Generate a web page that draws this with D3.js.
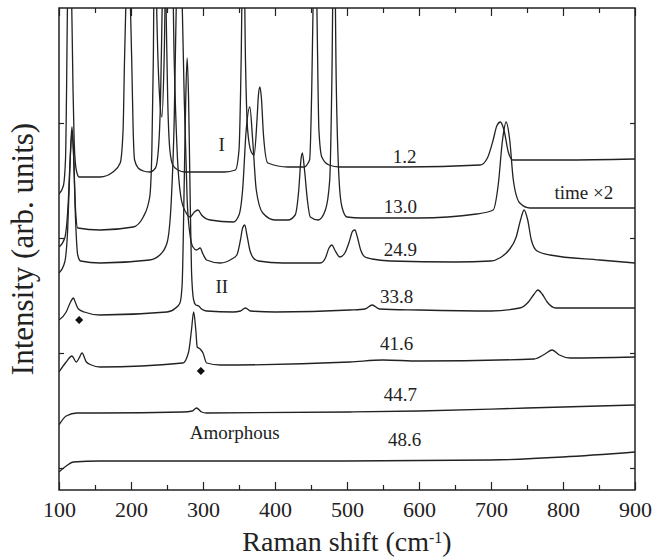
<!DOCTYPE html>
<html lang="en">
<head>
<meta charset="UTF-8">
<title>Raman spectra</title>
<style>
  body { margin: 0; background: #fff; }
  text { font-family: "Liberation Serif", "Times New Roman", serif; fill: #222; }
</style>
</head>
<body>
<div id="chart"></div>
<script src="https://cdnjs.cloudflare.com/ajax/libs/d3/7.8.5/d3.min.js"></script>
<script>
// spectra: [Raman shift (cm-1), intensity (arb. units, offset stacked)]
var s1_2 = [[100,296],[106,304],[109,330],[110.5,400],[111.5,470],[114.5,590],[118,470],[119.5,400],[121,350],[124,320],[128,313],[157,313],[175,318],[185,327],[189,360],[191,430],[193,490],[196,590],[199,490],[201,430],[203,360],[205,330],[210,322],[217,319],[226,318],[234,322],[238,340],[241,390],[243,470],[246,590],[249,470],[251,390],[254,340],[258,325],[265,320],[275,318],[330,318],[345,320],[350,340],[353,430],[356,590],[359,430],[362,360],[367,338],[371,335],[375,370],[377,395],[379,403],[381,393],[384,355],[390,327],[418,323],[440,323],[448,330],[451,400],[453,490],[455,590],[458,490],[461,360],[465,333],[475,325],[490,323],[580,323],[685,325],[695,332],[703,350],[708,364],[713,368],[718,360],[724,338],[730,330],[800,330],[900,331]];
var s13_0 = [[100,243],[108,252],[113,290],[116,340],[118,363],[120,340],[123,280],[126,262],[157,260],[203,263],[217,273],[226,293],[229,340],[231,430],[233,590],[236,470],[240,390],[243,373],[246,430],[250,590],[256,590],[260,430],[264,340],[270,290],[276,278],[282,273],[288,278],[293,280],[298,275],[310,270],[342,268],[350,275],[355,300],[360,360],[365,383],[369,350],[374,300],[383,277],[400,270],[418,270],[428,275],[433,300],[436,330],[438,337],[441,320],[445,290],[449,273],[460,270],[470,280],[476,310],[479,410],[482,590],[485,410],[489,310],[493,283],[500,273],[520,272],[600,272],[680,276],[703,280],[710,305],[716,350],[721,368],[726,350],[731,310],[740,287],[754,282],[900,282]];
var s24_9 = [[100,217],[108,228],[112,260],[115,320],[118,358],[120,340],[123,270],[126,235],[130,229],[157,227],[226,230],[240,235],[250,247],[256,290],[260,370],[263,490],[267,590],[271,490],[274,390],[278,290],[282,255],[286,243],[291,240],[296,242],[300,236],[305,230],[324,227],[340,231],[347,235],[352,250],[355,262],[358,265],[361,255],[365,240],[370,232],[377,229],[411,227],[463,227],[470,232],[475,242],[479,245],[483,240],[490,233],[497,237],[503,248],[508,259],[511,260],[514,254],[519,240],[525,233],[535,231],[560,229],[650,228],[700,229],[712,232],[725,240],[735,253],[741,270],[746,280],[751,270],[756,250],[764,239],[782,235],[851,230],[900,227]];
var s33_8 = [[100,170],[110,178],[116,188],[120,192],[123,187],[127,181],[135,178],[157,175],[250,178],[262,182],[268,187],[271,205],[274,310],[276,390],[278,432],[280,390],[282,300],[284,220],[287,190],[290,185],[294,184],[298,181],[305,179],[342,178],[352,179],[359,182],[366,179],[400,178],[504,180],[525,181],[535,185],[545,181],[600,180],[700,179],[740,182],[752,188],[760,196],[765,200],[771,196],[778,188],[790,182],[900,182]];
var s41_6 = [[100,118],[110,128],[118,134],[124,128],[128,132],[132,137],[138,128],[145,125],[157,123],[272,127],[280,138],[284,160],[287,178],[290,160],[292,143],[296,141],[300,137],[305,127],[324,125],[504,128],[550,130],[600,129],[760,131],[775,136],[785,140],[795,135],[810,132],[900,133]];
var s44_7 = [[100,65],[110,74],[125,77],[157,77],[272,78],[285,79],[291,82],[298,78],[305,77],[504,78],[600,79],[750,82],[900,85]];
var s48_6 = [[100,18],[110,24],[120,28],[157,29],[300,29],[500,29],[700,30],[800,33],[900,38]];

var spectra = [s1_2, s13_0, s24_9, s33_8, s41_6, s44_7, s48_6];
var times = ["1.2", "13.0", "24.9", "33.8", "41.6", "44.7", "48.6"];

var xTicks = d3.range(100, 901, 50);
var yTicks = [22, 137, 252, 367];

// annotation anchors [x in cm-1, intensity]
var timeAnchors = [[580,327],[574,277],[574,234],[569,187],[569,140],[574,89],[580,44]];
var phaseNotes = [["I", 326, 339], ["II", 326, 197], ["Amorphous", 344, 51], ["time \u00d72", 829, 291]];
var diamonds = [[128,170],[297,119]];

(function() {
  var width = 653, height = 560;
  var margin = {top: 8, right: 18, bottom: 70, left: 59};

  var x = d3.scaleLinear().domain([100, 900]).range([margin.left, width - margin.right]);
  var y = d3.scaleLinear().domain([0, 482]).range([height - margin.bottom, margin.top]);

  var svg = d3.select("#chart").append("svg")
      .attr("width", width)
      .attr("height", height);

  svg.append("clipPath").attr("id", "plot")
    .append("rect")
      .attr("x", margin.left).attr("y", margin.top)
      .attr("width", width - margin.left - margin.right)
      .attr("height", height - margin.top - margin.bottom);

  var line = d3.line()
      .x(function(d) { return x(d[0]); })
      .y(function(d) { return y(d[1]); })
      .curve(d3.curveMonotoneX);

  svg.append("g")
      .attr("clip-path", "url(#plot)")
    .selectAll("path")
    .data(spectra)
    .enter().append("path")
      .attr("d", line)
      .attr("fill", "none")
      .attr("stroke", "#222")
      .attr("stroke-width", 1.3);

  // axes, ticks pointing inward
  var xBottom = svg.append("g")
      .attr("transform", "translate(0," + (height - margin.bottom) + ")")
      .call(d3.axisBottom(x).tickValues(xTicks).tickSize(-8).tickPadding(11)
        .tickFormat(function(d) { return d % 100 === 0 ? d : ""; }));
  xBottom.select(".domain").remove();
  xBottom.selectAll(".tick line")
      .attr("y2", function(d) { return d % 100 === 0 ? -8 : -5; })
      .attr("stroke", "#222").attr("stroke-width", 1.2);
  xBottom.selectAll(".tick text")
      .attr("font-size", 22)
      .style("font-family", "'Liberation Serif', 'Times New Roman', serif")
      .attr("fill", "#222");

  var xTop = svg.append("g")
      .attr("transform", "translate(0," + margin.top + ")")
      .call(d3.axisTop(x).tickValues(xTicks).tickSize(-8).tickFormat(""));
  xTop.select(".domain").remove();
  xTop.selectAll(".tick line")
      .attr("y2", function(d) { return d % 100 === 0 ? 8 : 5; })
      .attr("stroke", "#222").attr("stroke-width", 1.2);

  var yLeft = svg.append("g")
      .attr("transform", "translate(" + margin.left + ",0)")
      .call(d3.axisLeft(y).tickValues(yTicks).tickSize(-5).tickFormat(""));
  yLeft.select(".domain").remove();
  yLeft.selectAll(".tick line").attr("stroke", "#222").attr("stroke-width", 1.2);

  var yRight = svg.append("g")
      .attr("transform", "translate(" + (width - margin.right) + ",0)")
      .call(d3.axisRight(y).tickValues(yTicks).tickSize(-5).tickFormat(""));
  yRight.select(".domain").remove();
  yRight.selectAll(".tick line").attr("stroke", "#222").attr("stroke-width", 1.2);

  svg.append("rect")
      .attr("x", margin.left).attr("y", margin.top)
      .attr("width", width - margin.left - margin.right)
      .attr("height", height - margin.top - margin.bottom)
      .attr("fill", "none")
      .attr("stroke", "#222")
      .attr("stroke-width", 1.5);

  // labels
  svg.selectAll(".time")
    .data(times)
    .enter().append("text")
      .attr("class", "time")
      .attr("x", function(d, i) { return x(timeAnchors[i][0]); })
      .attr("y", function(d, i) { return y(timeAnchors[i][1]); })
      .attr("text-anchor", "middle")
      .attr("font-size", 19)
      .text(function(d) { return d; });

  svg.selectAll(".note")
    .data(phaseNotes)
    .enter().append("text")
      .attr("class", "note")
      .attr("x", function(d) { return x(d[1]); })
      .attr("y", function(d) { return y(d[2]); })
      .attr("text-anchor", "middle")
      .attr("font-size", 19)
      .text(function(d) { return d[0]; });

  svg.selectAll(".dia")
    .data(diamonds)
    .enter().append("path")
      .attr("class", "dia")
      .attr("transform", function(d) { return "translate(" + x(d[0]) + "," + y(d[1]) + ")"; })
      .attr("d", d3.symbol().type(d3.symbolDiamond2).size(42))
      .attr("fill", "#111");

  // axis titles
  svg.append("text")
      .attr("x", (margin.left + width - margin.right) / 2)
      .attr("y", 551)
      .attr("text-anchor", "middle")
      .attr("font-size", 28)
      .html("Raman shift (cm<tspan baseline-shift='super' font-size='16'>-1</tspan>)");

  svg.append("text")
      .attr("transform", "translate(33," + ((margin.top + height - margin.bottom) / 2) + ") rotate(-90)")
      .attr("text-anchor", "middle")
      .attr("font-size", 31)
      .text("Intensity (arb. units)");
})();
</script>
</body>
</html>
